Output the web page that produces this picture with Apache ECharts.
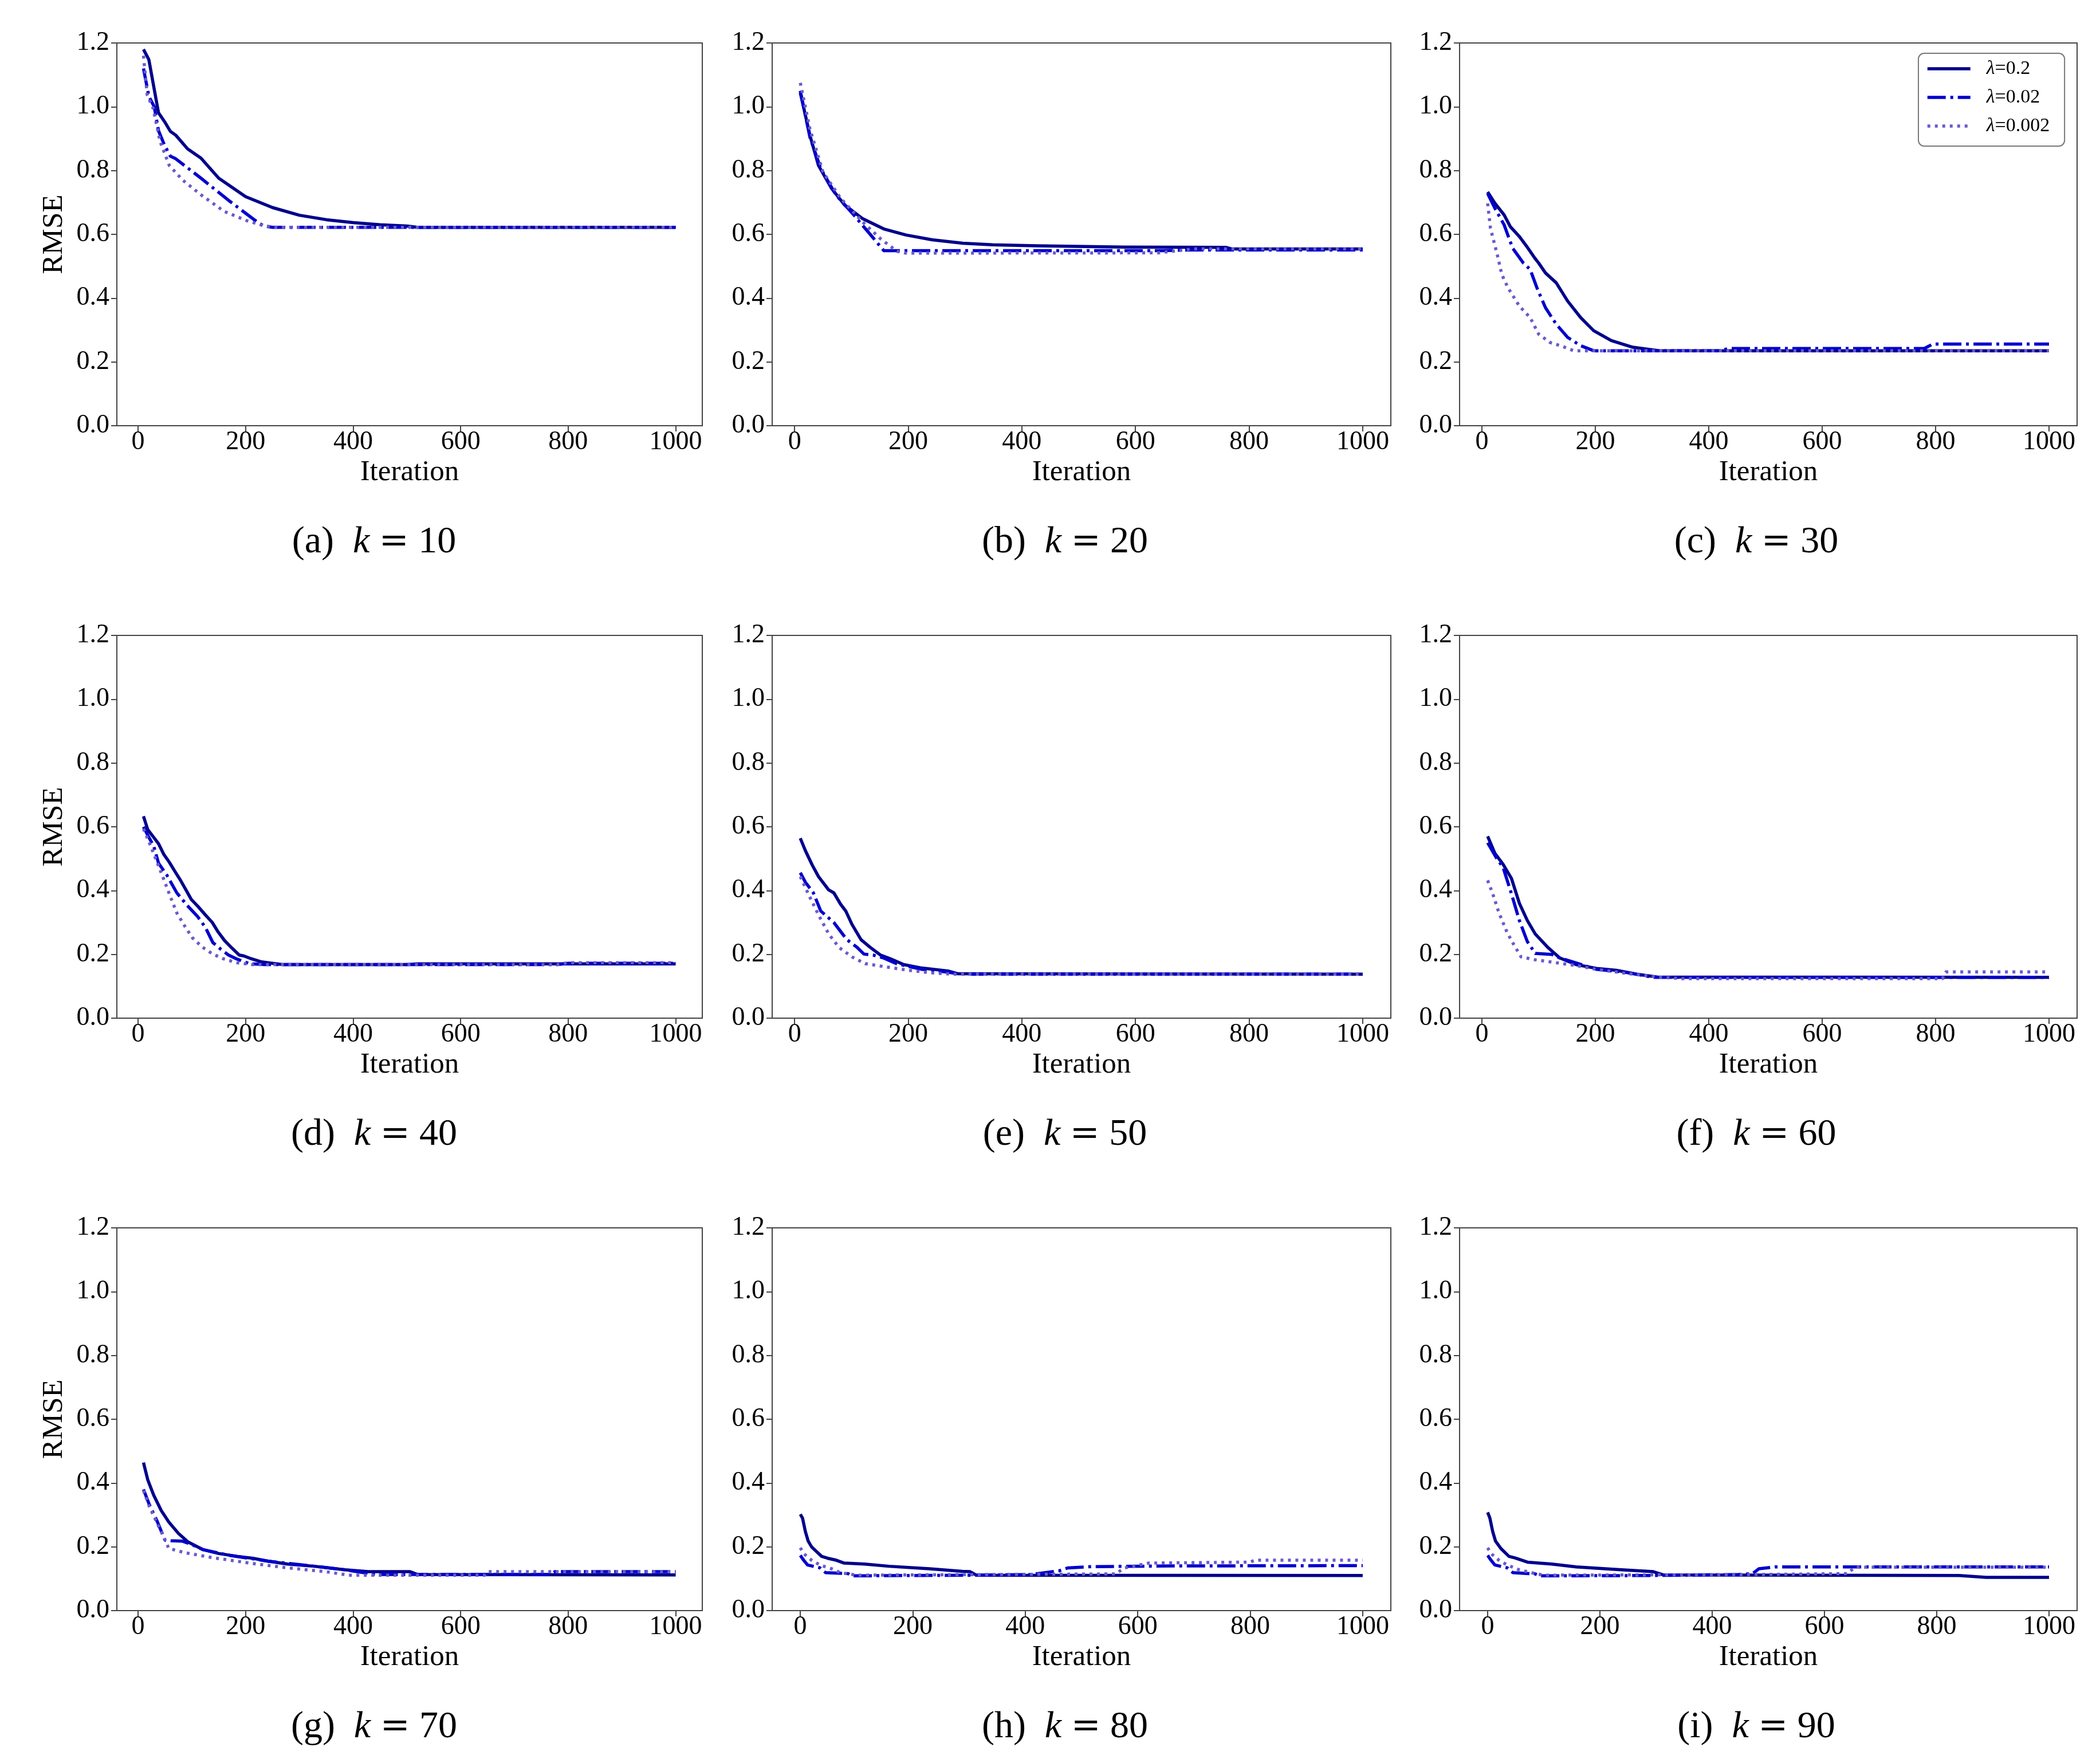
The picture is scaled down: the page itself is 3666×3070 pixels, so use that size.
<!DOCTYPE html>
<html>
<head>
<meta charset="utf-8">
<script src="https://cdn.jsdelivr.net/npm/echarts@6/dist/echarts.min.js"></script>
<style>
  html, body { margin: 0; padding: 0; background: #fff; }
  #chart { width: 3666px; height: 3070px; }
</style>
</head>
<body>
<div id="chart"></div>
<script>
// panel settings
const ks = [10, 20, 30, 40, 50, 60, 70, 80, 90]
const panelLetters = ['a', 'b', 'c', 'd', 'e', 'f', 'g', 'h', 'i']
const firstIter = [10, 10, 10, 10, 10, 10, 10, 0, 0]
const lambdaNames = ['λ=0.2', 'λ=0.02', 'λ=0.002']
const xTicks = [0, 200, 400, 600, 800, 1000]
const yTicks = [0, 0.2, 0.4, 0.6, 0.8, 1.0, 1.2]

// [iteration, RMSE]
const k10_l02 = [[10,1.18],[20,1.148],[38,0.981],[49,0.954],[60,0.923],[70,0.911],[92,0.868],[117,0.839],[150,0.776],[200,0.718],[250,0.684],[300,0.660],[350,0.646],[400,0.637],[450,0.630],[500,0.626],[520,0.622],[1000,0.622]]
const k10_l002 = [[10,1.12],[20,1.033],[30,1.0],[38,0.925],[49,0.88],[60,0.845],[70,0.837],[117,0.776],[168,0.707],[223,0.637],[234,0.626],[250,0.622],[1000,0.622]]
const k10_l0002 = [[10,1.16],[17,1.037],[28,0.995],[41,0.891],[58,0.816],[83,0.77],[117,0.724],[160,0.672],[202,0.643],[236,0.626],[260,0.622],[1000,0.622]]

const k20_l02 = [[10,1.044],[27,0.91],[42,0.816],[65,0.744],[88,0.692],[119,0.650],[157,0.617],[196,0.598],[242,0.583],[296,0.572],[349,0.567],[426,0.564],[580,0.560],[760,0.559],[770,0.554],[1000,0.554]]
const k20_l002 = [[10,1.05],[27,0.904],[46,0.806],[73,0.723],[104,0.661],[134,0.598],[157,0.549],[650,0.549],[700,0.551],[1000,0.551]]
const k20_l0002 = [[10,1.075],[27,0.93],[50,0.795],[81,0.713],[119,0.64],[150,0.588],[180,0.547],[196,0.541],[640,0.542],[700,0.554],[1000,0.554]]

const k30_l02 = [[10,0.733],[23,0.697],[39,0.661],[50,0.624],[66,0.593],[81,0.557],[93,0.526],[100,0.510],[112,0.479],[131,0.448],[151,0.391],[174,0.339],[197,0.298],[228,0.267],[266,0.246],[313,0.235],[1000,0.235]]
const k30_l002 = [[10,0.728],[23,0.681],[39,0.63],[54,0.557],[73,0.51],[85,0.49],[97,0.432],[112,0.37],[131,0.318],[151,0.277],[174,0.251],[197,0.235],[420,0.235],[435,0.242],[780,0.242],[795,0.256],[1000,0.256]]
const k30_l0002 = [[10,0.697],[15,0.619],[27,0.536],[35,0.474],[46,0.432],[66,0.375],[85,0.339],[100,0.287],[120,0.261],[143,0.248],[162,0.235],[1000,0.235]]

const k40_l02 = [[10,0.633],[18,0.591],[29,0.567],[38,0.547],[48,0.513],[58,0.489],[70,0.456],[79,0.432],[89,0.402],[99,0.372],[111,0.351],[125,0.324],[138,0.300],[149,0.270],[161,0.243],[175,0.219],[188,0.198],[197,0.195],[211,0.186],[228,0.177],[245,0.173],[269,0.168],[500,0.168],[520,0.170],[1000,0.170]]
const k40_l002 = [[10,0.60],[19,0.57],[29,0.54],[38,0.486],[53,0.45],[72,0.393],[91,0.354],[111,0.318],[125,0.285],[139,0.237],[154,0.216],[168,0.198],[183,0.186],[207,0.171],[236,0.168],[780,0.168],[800,0.172],[1000,0.172]]
const k40_l0002 = [[10,0.594],[19,0.558],[29,0.516],[43,0.456],[58,0.39],[72,0.33],[87,0.288],[101,0.252],[120,0.222],[139,0.201],[159,0.186],[183,0.174],[212,0.168],[780,0.168],[800,0.174],[1000,0.174]]

const k50_l02 = [[10,0.564],[19,0.525],[31,0.48],[42,0.444],[60,0.402],[69,0.393],[81,0.357],[90,0.336],[101,0.294],[117,0.246],[133,0.222],[151,0.198],[169,0.186],[192,0.168],[224,0.157],[270,0.148],[288,0.139],[1000,0.138]]
const k50_l002 = [[10,0.456],[19,0.426],[33,0.393],[46,0.336],[69,0.30],[92,0.246],[110,0.222],[122,0.201],[138,0.198],[156,0.189],[179,0.171],[224,0.153],[270,0.144],[292,0.138],[1000,0.138]]
const k50_l0002 = [[10,0.444],[24,0.39],[42,0.324],[60,0.264],[78,0.222],[101,0.192],[124,0.171],[156,0.162],[201,0.15],[247,0.141],[279,0.138],[1000,0.138]]

const k60_l02 = [[10,0.57],[23,0.516],[37,0.483],[52,0.438],[66,0.36],[80,0.306],[94,0.264],[116,0.222],[137,0.189],[166,0.168],[202,0.156],[237,0.15],[273,0.138],[309,0.129],[1000,0.128]]
const k60_l002 = [[10,0.55],[27,0.498],[37,0.474],[52,0.39],[66,0.306],[80,0.24],[94,0.203],[123,0.20],[137,0.189],[202,0.153],[252,0.144],[302,0.128],[1000,0.128]]
const k60_l0002 = [[10,0.432],[19,0.39],[30,0.33],[44,0.27],[55,0.234],[69,0.192],[94,0.183],[130,0.174],[166,0.165],[202,0.153],[252,0.141],[309,0.129],[352,0.124],[812,0.124],[818,0.145],[1000,0.145]]

const k70_l02 = [[10,0.464],[18,0.41],[29,0.362],[43,0.314],[57,0.278],[75,0.242],[93,0.215],[121,0.191],[150,0.179],[185,0.170],[214,0.164],[242,0.155],[278,0.146],[328,0.139],[385,0.128],[428,0.122],[506,0.122],[520,0.113],[1000,0.112]]
const k70_l002 = [[10,0.38],[21,0.332],[36,0.278],[50,0.221],[61,0.219],[82,0.218],[100,0.207],[121,0.191],[171,0.173],[242,0.155],[328,0.139],[385,0.128],[442,0.113],[765,0.113],[775,0.122],[1000,0.122]]
const k70_l0002 = [[10,0.377],[21,0.326],[36,0.272],[48,0.23],[57,0.195],[86,0.182],[135,0.167],[207,0.149],[278,0.134],[349,0.122],[392,0.111],[645,0.111],[650,0.122],[1000,0.122]]

const k80_l02 = [[0,0.302],[4,0.29],[9,0.248],[14,0.218],[20,0.2],[27,0.188],[38,0.170],[49,0.164],[64,0.158],[78,0.149],[114,0.146],[158,0.139],[230,0.131],[288,0.123],[302,0.122],[313,0.111],[1000,0.11]]
const k80_l002 = [[0,0.173],[6,0.158],[13,0.143],[35,0.134],[45,0.119],[85,0.116],[92,0.109],[300,0.111],[411,0.113],[461,0.125],[476,0.134],[519,0.138],[664,0.14],[1000,0.141]]
const k80_l0002 = [[0,0.197],[6,0.179],[20,0.158],[35,0.143],[56,0.131],[71,0.119],[100,0.111],[560,0.115],[577,0.134],[620,0.149],[800,0.152],[808,0.158],[1000,0.158]]

const k90_l02 = [[0,0.308],[4,0.29],[9,0.248],[14,0.218],[24,0.194],[38,0.17],[49,0.165],[71,0.152],[114,0.146],[158,0.137],[230,0.129],[295,0.122],[313,0.112],[840,0.11],[888,0.104],[1000,0.104]]
const k90_l002 = [[0,0.173],[6,0.158],[13,0.143],[35,0.134],[45,0.119],[85,0.115],[92,0.109],[288,0.11],[447,0.113],[472,0.116],[483,0.131],[512,0.137],[1000,0.137]]
const k90_l0002 = [[0,0.197],[6,0.179],[20,0.158],[35,0.143],[56,0.128],[85,0.116],[100,0.111],[470,0.113],[640,0.116],[655,0.136],[1000,0.136]]

const panelData = [
  [k10_l02, k10_l002, k10_l0002],
  [k20_l02, k20_l002, k20_l0002],
  [k30_l02, k30_l002, k30_l0002],
  [k40_l02, k40_l002, k40_l0002],
  [k50_l02, k50_l002, k50_l0002],
  [k60_l02, k60_l002, k60_l0002],
  [k70_l02, k70_l002, k70_l0002],
  [k80_l02, k80_l002, k80_l0002],
  [k90_l02, k90_l002, k90_l0002],
]

// layout and style
const FONT = 'Liberation Serif'
const colLeft = [204, 1348, 2548]
const colWidth = [1022, 1080, 1078]
const captionX = [653, 1859, 3066]
const rowTop = [75, 1109, 2143]
const plotH = 668
const lineColors = ['#00008B', '#0000CD', '#6A5ACD']
const lineTypes = ['solid', [32, 8, 5, 8], [5, 8]]
const lineW = 5.5
const spine = '#444'

const grids = []
const xAxes = []
const yAxes = []
const series = []
const captions = []

ks.forEach((k, i) => {
  const row = Math.floor(i / 3)
  const col = i % 3
  grids.push({
    left: colLeft[col], top: rowTop[row], width: colWidth[col], height: plotH,
    show: true, borderColor: spine, borderWidth: 2, backgroundColor: 'transparent',
  })
  const pad = 0.05 * (1000 - firstIter[i])
  xAxes.push({
    gridIndex: i, type: 'value', min: firstIter[i] - pad, max: 1000 + pad,
    axisLine: { show: true, onZero: false, lineStyle: { color: spine, width: 2 } },
    axisTick: { show: true, customValues: xTicks, length: 10, lineStyle: { color: spine, width: 2 } },
    axisLabel: {
      customValues: xTicks, margin: 6, fontSize: 46, fontFamily: FONT, color: '#000',
      formatter: v => String(v),
    },
    splitLine: { show: false },
    name: 'Iteration', nameLocation: 'middle', nameGap: 56,
    nameTextStyle: { fontSize: 51, fontFamily: FONT, color: '#000' },
  })
  yAxes.push({
    gridIndex: i, type: 'value', min: 0, max: 1.2, interval: 0.2,
    axisLine: { show: true, onZero: false, lineStyle: { color: spine, width: 2 } },
    axisTick: { show: true, customValues: yTicks, length: 10, lineStyle: { color: spine, width: 2 } },
    axisLabel: {
      customValues: yTicks, margin: 13, fontSize: 46, fontFamily: FONT, color: '#000',
      formatter: v => v.toFixed(1),
    },
    splitLine: { show: false },
    name: col === 0 ? 'RMSE' : '', nameLocation: 'middle', nameGap: 84,
    nameTextStyle: { fontSize: 51, fontFamily: FONT, color: '#000' },
  })
  panelData[i].forEach((data, j) => {
    series.push({
      type: 'line', name: lambdaNames[j], xAxisIndex: i, yAxisIndex: i,
      data, symbol: 'none', showSymbol: false, animation: false,
      lineStyle: { color: lineColors[j], width: lineW, type: lineTypes[j], join: 'round' },
      itemStyle: { color: lineColors[j] },
    })
  })
  captions.push({
    type: 'text', x: captionX[col], y: rowTop[row] + plotH + 204,
    style: {
      text: `(${panelLetters[i]})  {k|k} {eq|=} ${k}`,
      fontSize: 66, fontFamily: FONT, fill: '#000', align: 'center', verticalAlign: 'middle',
      rich: {
        k: { fontSize: 66, fontFamily: FONT, fontStyle: 'italic', fill: '#000' },
        eq: { fontSize: 62, fontFamily: 'DejaVu Serif', fill: '#000' },
      },
    },
  })
})

const chart = echarts.init(document.getElementById('chart'), null, { width: 3666, height: 3070 })
chart.setOption({
  backgroundColor: '#fff',
  animation: false,
  grid: grids,
  xAxis: xAxes,
  yAxis: yAxes,
  series,
  graphic: captions,
  legend: {
    data: lambdaNames, orient: 'vertical', left: 3349, top: 93,
    padding: [10, 26, 18, 13], itemWidth: 75, itemHeight: 20, itemGap: 16,
    backgroundColor: '#fff', borderColor: '#777', borderWidth: 2, borderRadius: 10,
    itemStyle: { color: 'transparent', borderWidth: 0, opacity: 0 },
    lineStyle: { width: lineW },
    formatter: name => '{i|λ}' + name.slice(1),
    textStyle: {
      fontSize: 34, fontFamily: FONT, color: '#000', padding: [0, 0, 0, 23],
      rich: { i: { fontSize: 34, fontFamily: FONT, fontStyle: 'italic', color: '#000' } },
    },
  },
})
</script>
</body>
</html>
